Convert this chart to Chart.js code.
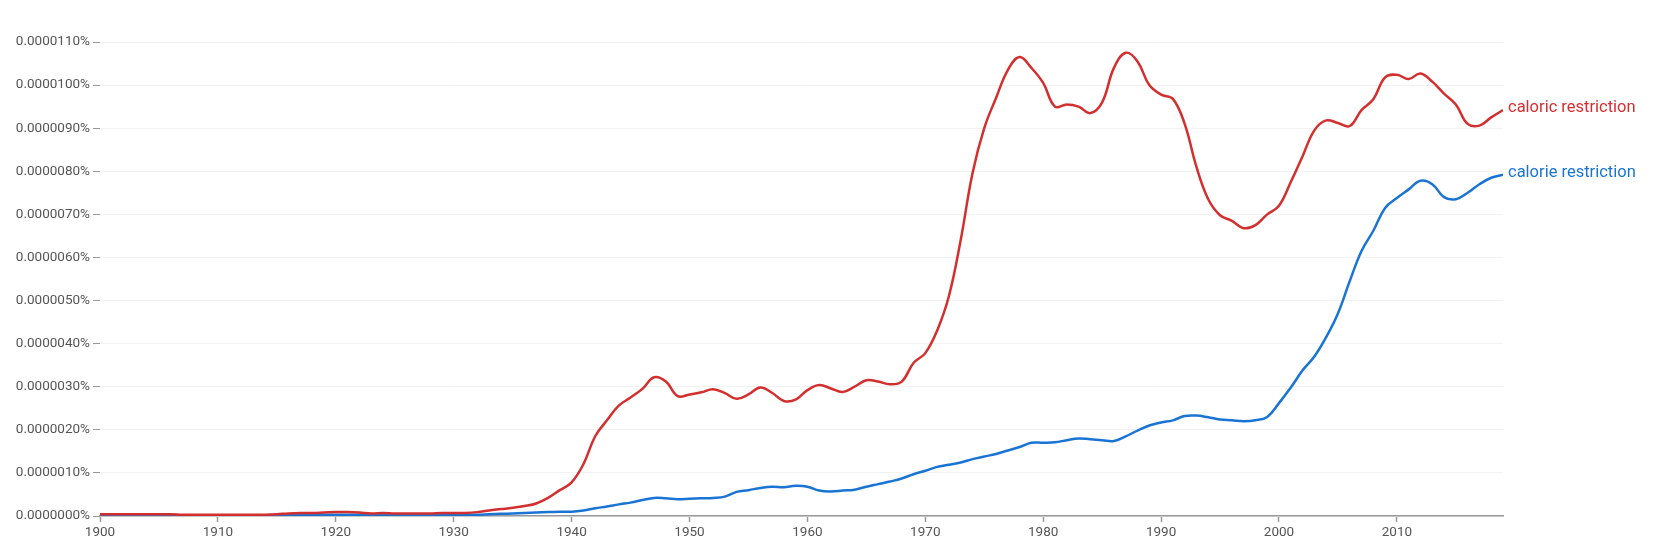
<!DOCTYPE html>
<html>
<head>
<meta charset="utf-8">
<script src="https://cdn.jsdelivr.net/npm/chart.js@4"></script>
<style>
  html, body { margin: 0; padding: 0; background: #fff; }
  #wrap { width: 1664px; height: 555px; }
</style>
</head>
<body>
<div id="wrap"><canvas id="chart" width="1664" height="555"></canvas></div>
<script>
// years 1900..2019, values in millionths of a percent (1 -> 0.0000010%)
const years = [];
for (let y = 1900; y <= 2019; y++) years.push(y);

const caloric = [
  0.04, 0.04, 0.04, 0.04, 0.04, 0.04, 0.04, 0.03, 0.03, 0.03,   // 1900
  0.03, 0.03, 0.03, 0.03, 0.03, 0.04, 0.06, 0.07, 0.07, 0.08,   // 1910
  0.09, 0.09, 0.08, 0.06, 0.07, 0.06, 0.06, 0.06, 0.06, 0.07,   // 1920
  0.07, 0.07, 0.09, 0.13, 0.16, 0.19, 0.23, 0.29, 0.42, 0.60,   // 1930
  0.78, 1.20, 1.85, 2.22, 2.56, 2.75, 2.95, 3.22, 3.12, 2.78,   // 1940
  2.82, 2.87, 2.94, 2.85, 2.72, 2.82, 2.98, 2.86, 2.67, 2.70,   // 1950
  2.92, 3.04, 2.96, 2.88, 3.00, 3.15, 3.12, 3.06, 3.12, 3.55,   // 1960
  3.78, 4.30, 5.10, 6.40, 7.95, 9.00, 9.70, 10.35, 10.65, 10.40, // 1970
  10.05, 9.50, 9.55, 9.50, 9.35, 9.60, 10.40, 10.75, 10.55, 10.00, // 1980
  9.78, 9.68, 9.10, 8.10, 7.35, 6.98, 6.85, 6.68, 6.75, 7.00,   // 1990
  7.20, 7.75, 8.35, 8.95, 9.18, 9.12, 9.05, 9.42, 9.67, 10.18,  // 2000
  10.24, 10.14, 10.27, 10.08, 9.80, 9.55, 9.10, 9.06, 9.25, 9.42 // 2010
];

const calorie = [
  0.01, 0.01, 0.01, 0.01, 0.01, 0.01, 0.01, 0.01, 0.01, 0.01,   // 1900
  0.01, 0.01, 0.01, 0.01, 0.01, 0.02, 0.02, 0.03, 0.03, 0.03,   // 1910
  0.03, 0.03, 0.03, 0.02, 0.02, 0.02, 0.02, 0.02, 0.02, 0.02,   // 1920
  0.02, 0.03, 0.03, 0.04, 0.05, 0.06, 0.07, 0.08, 0.09, 0.10,   // 1930
  0.10, 0.13, 0.18, 0.22, 0.27, 0.31, 0.37, 0.42, 0.41, 0.39,   // 1940
  0.40, 0.41, 0.42, 0.45, 0.56, 0.60, 0.65, 0.68, 0.67, 0.70,   // 1950
  0.68, 0.59, 0.57, 0.59, 0.61, 0.68, 0.74, 0.80, 0.87, 0.97,   // 1960
  1.05, 1.14, 1.19, 1.24, 1.32, 1.38, 1.44, 1.52, 1.60, 1.70,   // 1970
  1.70, 1.71, 1.76, 1.80, 1.78, 1.76, 1.74, 1.85, 1.98, 2.10,   // 1980
  2.17, 2.22, 2.32, 2.33, 2.29, 2.24, 2.22, 2.20, 2.22, 2.30,   // 1990
  2.62, 2.98, 3.38, 3.70, 4.15, 4.70, 5.45, 6.15, 6.62, 7.15,   // 2000
  7.38, 7.58, 7.78, 7.70, 7.40, 7.35, 7.50, 7.70, 7.85, 7.92    // 2010
];

const seriesNames = ['caloric restriction', 'calorie restriction'];
const seriesColors = ['#d42f2f', '#1a74d4'];

function toPoints(vals) {
  return vals.map((v, i) => ({ x: years[i], y: v }));
}

// draws the series name right after the last point
const endLabels = {
  id: 'endLabels',
  afterDatasetsDraw(chart) {
    const ctx = chart.ctx;
    ctx.save();
    ctx.font = '16.5px Roboto';
    ctx.textBaseline = 'middle';
    ctx.textAlign = 'left';
    chart.data.datasets.forEach((ds, i) => {
      const meta = chart.getDatasetMeta(i);
      const last = meta.data[meta.data.length - 1];
      ctx.fillStyle = ds.borderColor;
      ctx.fillText(ds.label, last.x + 5, last.y - 2);
    });
    ctx.restore();
  }
};

const config = {
  type: 'line',
  data: {
    datasets: [
      {
        label: seriesNames[0],
        data: toPoints(caloric),
        borderColor: seriesColors[0],
        borderWidth: 2.5,
        pointRadius: 0,
        tension: 0.4
      },
      {
        label: seriesNames[1],
        data: toPoints(calorie),
        borderColor: seriesColors[1],
        borderWidth: 2.5,
        pointRadius: 0,
        tension: 0.4
      }
    ]
  },
  options: {
    responsive: false,
    animation: false,
    layout: { padding: { top: 42, right: 161, left: 0, bottom: 0 } },
    plugins: {
      legend: { display: false },
      tooltip: { enabled: false }
    },
    scales: {
      x: {
        type: 'linear',
        min: 1900,
        max: 2019,
        afterBuildTicks: (s) => { s.ticks = s.ticks.filter(t => t.value % 10 === 0); },
        afterFit: (s) => { s.height = 39; },
        ticks: {
          stepSize: 10,
          includeBounds: false,
          color: '#555',
          font: { family: 'Roboto', size: 13.5 },
          padding: 3,
          maxRotation: 0,
          callback: (v) => String(v)
        },
        grid: {
          drawOnChartArea: false,
          drawTicks: true,
          tickLength: 6,
          tickColor: '#999',
          tickWidth: 1.5
        },
        border: { display: true, color: '#999', width: 1.5 }
      },
      y: {
        min: 0,
        max: 11,
        afterFit: (s) => { s.width = 100; },
        ticks: {
          stepSize: 1,
          color: '#555',
          font: { family: 'Roboto', size: 13.5 },
          padding: 3,
          callback: (v) => (v / 1e6).toFixed(7) + '%'
        },
        grid: {
          color: '#f2f2f2',
          lineWidth: 1,
          drawTicks: true,
          tickLength: 7,
          tickColor: '#999',
          tickWidth: 1
        },
        border: { display: false }
      }
    }
  },
  plugins: [endLabels]
};

const myChart = new Chart(document.getElementById('chart').getContext('2d'), config);
</script>
</body>
</html>
